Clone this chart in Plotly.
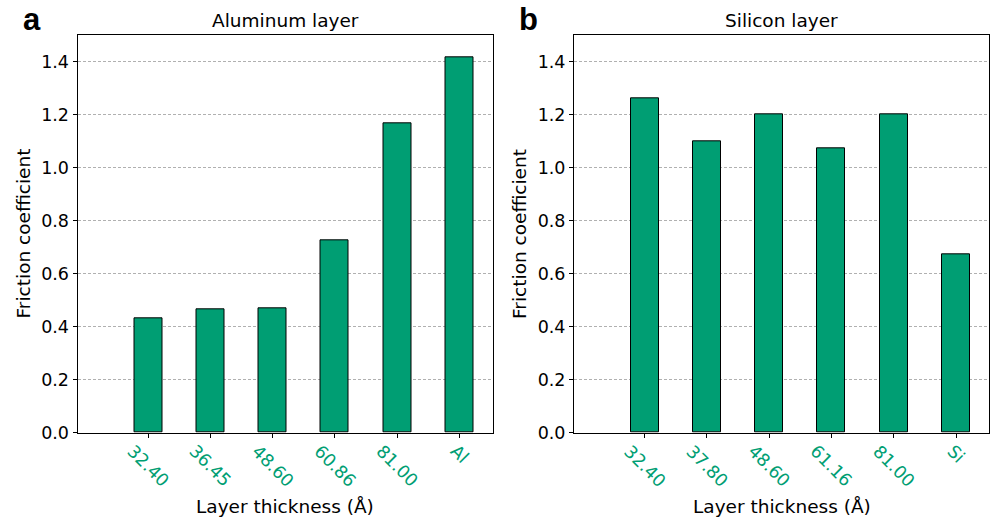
import plotly.graph_objects as go

# ---- data ----
al_labels = ["32.40", "36.45", "48.60", "60.86", "81.00", "Al"]
al_values = [0.432, 0.464, 0.471, 0.725, 1.169, 1.417]
si_labels = ["32.40", "37.80", "48.60", "61.16", "81.00", "Si"]
si_values = [1.263, 1.099, 1.203, 1.073, 1.203, 0.674]
titles = ["Aluminum layer", "Silicon layer"]
panel_letters = ["a", "b"]
y_ticks = [0.0, 0.2, 0.4, 0.6, 0.8, 1.0, 1.2, 1.4]

W, H = 990, 527
GREEN = "#009E73"
FONT = "DejaVu Sans"

# pixel layout
left_dom = (77.5, 492.5)
right_dom = (574, 989)
y_bot_px, y_top_px = 441, 36

def px_x(v):
    return v / W

def px_y(v):
    return 1 - v / H

fig = go.Figure()
positions = list(range(6))

fig.add_trace(go.Bar(x=positions, y=al_values, width=0.45, xaxis="x", yaxis="y",
                     marker=dict(color=GREEN, line=dict(color="black", width=1)),
                     showlegend=False))
fig.add_trace(go.Bar(x=positions, y=si_values, width=0.45, xaxis="x2", yaxis="y2",
                     marker=dict(color=GREEN, line=dict(color="black", width=1)),
                     showlegend=False))

xrange = [-1.135, 5.53]
common_x = dict(range=xrange, tickvals=positions, showticklabels=False,
                ticks="outside", ticklen=4, tickcolor="black",
                showline=True, linecolor="black", linewidth=1, mirror=True,
                showgrid=False, zeroline=False, fixedrange=True)
common_y = dict(range=[0, 1.5], tickvals=y_ticks, tickformat=".1f",
                ticks="outside", ticklen=4, tickcolor="black",
                tickfont=dict(family=FONT, size=17.5, color="black"),
                showline=True, linecolor="black", linewidth=1, mirror=True,
                showgrid=True, gridcolor="#b0b0b0", gridwidth=0.8, griddash="3px,2px",
                zeroline=False, fixedrange=True)

ydom = [px_y(y_bot_px), px_y(y_top_px)]
fig.update_layout(
    width=W, height=H,
    margin=dict(l=0, r=0, t=0, b=0),
    plot_bgcolor="white", paper_bgcolor="white",
    bargap=0,
    xaxis=dict(domain=[px_x(left_dom[0]), px_x(left_dom[1])], anchor="y", **common_x),
    yaxis=dict(domain=ydom, anchor="x", **common_y),
    xaxis2=dict(domain=[px_x(right_dom[0]), px_x(right_dom[1])], anchor="y2", **common_x),
    yaxis2=dict(domain=ydom, anchor="x2", **common_y),
    font=dict(family=FONT, color="black"),
)

annotations = []
for i, (labels, dom, xref) in enumerate([(al_labels, left_dom, "x"), (si_labels, right_dom, "x2")]):
    cx = (dom[0] + dom[1]) / 2
    # rotated tick labels
    for p, lab in zip(positions, labels):
        annotations.append(dict(x=p, y=px_y(447), xref=xref, yref="paper",
                                text=lab, textangle=45, showarrow=False,
                                xanchor="center", yanchor="top",
                                font=dict(family=FONT, size=17.5, color=GREEN)))
    # x axis title
    annotations.append(dict(x=px_x(cx), y=px_y(516), xref="paper", yref="paper",
                            text="Layer thickness (Å)", showarrow=False,
                            xanchor="center", yanchor="middle",
                            font=dict(family=FONT, size=18.5, color="black")))
    # y axis title
    annotations.append(dict(x=px_x(dom[0] - 54), y=px_y((y_bot_px + y_top_px) / 2),
                            xref="paper", yref="paper",
                            text="Friction coefficient", textangle=-90, showarrow=False,
                            xanchor="center", yanchor="middle",
                            font=dict(family=FONT, size=18.5, color="black")))
    # subplot title
    annotations.append(dict(x=px_x(cx), y=px_y(21), xref="paper", yref="paper",
                            text=titles[i], showarrow=False,
                            xanchor="center", yanchor="middle",
                            font=dict(family=FONT, size=18.5, color="black")))
    # panel letter
    annotations.append(dict(x=px_x(dom[0] - 57), y=px_y(20), xref="paper", yref="paper",
                            text="<b>" + panel_letters[i] + "</b>", showarrow=False,
                            xanchor="left", yanchor="middle",
                            font=dict(family="Liberation Sans", size=31, color="black")))

fig.update_layout(annotations=annotations)
post = ("document.documentElement.style.overflow='hidden';"
        "document.body.style.margin='0';document.body.style.padding='0';"
        "document.body.style.overflow='hidden';")
fig.write_html("out.html", config={"displayModeBar": False}, post_script=post)
